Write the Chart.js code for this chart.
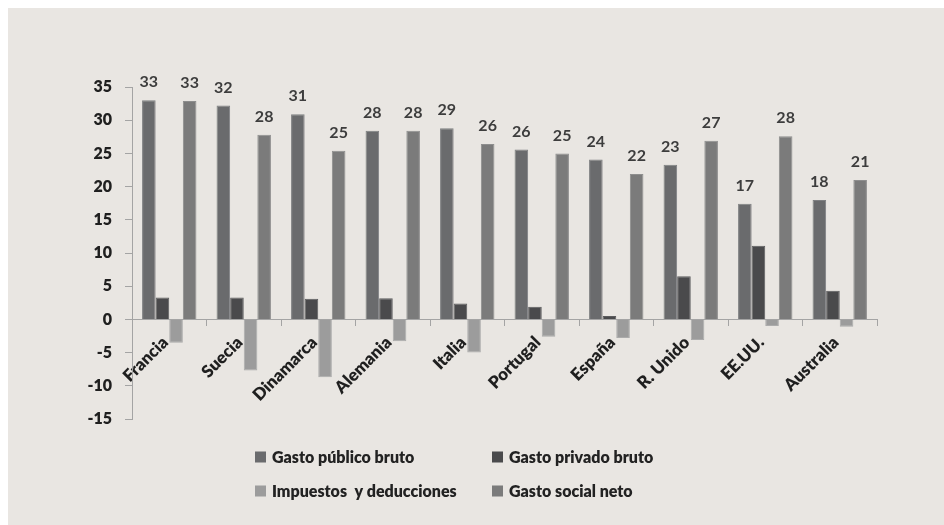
<!DOCTYPE html>
<html lang="es">
<head>
<meta charset="utf-8">
<title>Gasto social bruto y neto</title>
<script src="https://cdn.jsdelivr.net/npm/chart.js@4/dist/chart.umd.min.js"></script>
<style>
  html, body { margin: 0; padding: 0; background: #ffffff; }
  #frame {
    position: absolute; left: 8px; top: 8px;
    width: 936px; height: 517px;
    background: #e9e6e2;
  }
  canvas { display: block; }
</style>
</head>
<body>
<div id="frame"><canvas id="chart"></canvas></div>
<script>
// Países y series (% del PIB)
const categories = ['Francia', 'Suecia', 'Dinamarca', 'Alemania', 'Italia', 'Portugal', 'España', 'R. Unido', 'EE.UU.', 'Australia'];
const seriesNames = ['Gasto público bruto', 'Gasto privado bruto', 'Impuestos  y deducciones', 'Gasto social neto'];
const gastoPublicoBruto    = [33.0, 32.2, 30.9, 28.4, 28.8, 25.6, 24.1, 23.3, 17.4, 18.0];
const gastoPrivadoBruto    = [3.3, 3.3, 3.1, 3.2, 2.4, 1.9, 0.5, 6.5, 11.1, 4.3];
const impuestosDeducciones = [-3.5, -7.7, -8.7, -3.3, -5.0, -2.6, -2.8, -3.1, -1.0, -1.1];
const gastoSocialNeto      = [32.9, 27.8, 25.4, 28.4, 26.4, 25.0, 21.9, 26.9, 27.6, 21.0];
const yTickMin = -15, yTickMax = 35, yTickStep = 5;

const seriesColors = ['#6a6b6d', '#4a4a4c', '#9c9c9c', '#7b7b7b'];
const seriesBorders = ['#7f8082', '#5c5c5e', '#ababab', '#8e8e8e'];
const labelledSeries = [0, 3];

const FONT = 'Lato, "Open Sans", "DejaVu Sans", sans-serif';
const AXIS_GREY = '#a4a4a4';

// Rounded value labels above the public and net spending bars
const valueLabels = {
  id: 'valueLabels',
  afterDatasetsDraw(chart) {
    const ctx = chart.ctx;
    ctx.save();
    ctx.font = 'bold 16px ' + FONT;
    ctx.fillStyle = '#3d3d3d';
    ctx.textAlign = 'center';
    ctx.textBaseline = 'middle';
    labelledSeries.forEach(di => {
      const meta = chart.getDatasetMeta(di);
      meta.data.forEach((bar, i) => {
        const v = chart.data.datasets[di].data[i];
        ctx.fillText(String(Math.round(v)), bar.x, bar.y - 18);
      });
    });
    ctx.restore();
  }
};

// Two-column legend under the plot
const gridLegend = {
  id: 'gridLegend',
  afterDraw(chart) {
    const ctx = chart.ctx;
    const colX = [247, 484];
    const rowY = [449, 483];
    const box = 11;
    ctx.save();
    ctx.font = '800 16px ' + FONT;
    ctx.textBaseline = 'middle';
    ctx.textAlign = 'left';
    chart.data.datasets.forEach((ds, i) => {
      const x = colX[i % 2];
      const y = rowY[Math.floor(i / 2)];
      ctx.fillStyle = ds.backgroundColor;
      ctx.fillRect(x, y - box / 2, box, box);
      ctx.fillStyle = '#222222';
      ctx.fillText(ds.label, x + 17, y + 1);
    });
    ctx.restore();
  }
};

const seriesData = [gastoPublicoBruto, gastoPrivadoBruto, impuestosDeducciones, gastoSocialNeto];

new Chart(document.getElementById('chart'), {
  type: 'bar',
  data: {
    labels: categories,
    datasets: seriesData.map((d, i) => ({
      label: seriesNames[i],
      data: d,
      backgroundColor: seriesColors[i],
      borderColor: seriesBorders[i],
      borderWidth: 1,
      categoryPercentage: 0.73,
      barPercentage: 1.0
    }))
  },
  options: {
    responsive: true,
    maintainAspectRatio: false,
    animation: false,
    layout: { padding: { top: 79, left: 0, right: 67, bottom: 106 } },
    plugins: {
      legend: { display: false },
      tooltip: { enabled: false }
    },
    scales: {
      x: {
        position: { y: 0 },
        afterFit: s => { s.height = 0; },
        grid: {
          display: true,
          drawOnChartArea: false,
          offset: true,
          tickLength: 6,
          color: AXIS_GREY,
          lineWidth: 1
        },
        border: { display: true, color: AXIS_GREY, width: 1 },
        ticks: {
          minRotation: 45,
          maxRotation: 45,
          autoSkip: false,
          padding: 7,
          labelOffset: -4,
          color: '#1f1f1f',
          font: { family: FONT, size: 17, weight: 800 }
        }
      },
      y: {
        min: yTickMin,
        max: yTickMax,
        afterFit: s => { s.width = 124; },
        grid: {
          display: true,
          drawOnChartArea: false,
          tickLength: 7,
          color: AXIS_GREY,
          lineWidth: 1
        },
        border: { display: true, color: AXIS_GREY, width: 1 },
        ticks: {
          stepSize: yTickStep,
          padding: 13,
          color: '#1f1f1f',
          font: { family: FONT, size: 16, weight: 800 }
        }
      }
    }
  },
  plugins: [valueLabels, gridLegend]
});
</script>
</body>
</html>
